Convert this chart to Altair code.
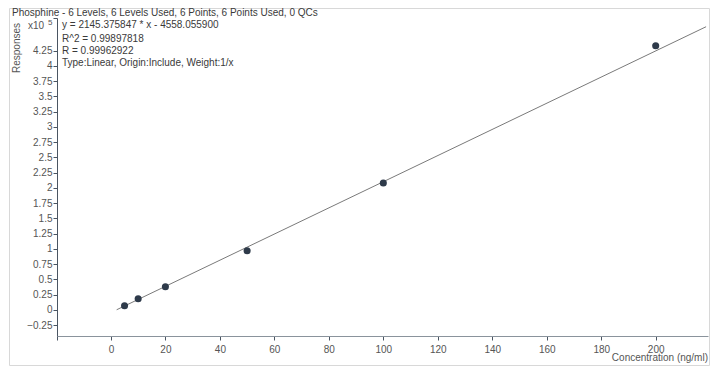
import altair as alt
import pandas as pd

# Calibration points
conc = [5, 10, 20, 50, 100, 200]
resp = [6600, 18000, 37700, 96700, 208000, 433000]

# Fitted line end points
line_x = [2.1, 218.5]
line_y = [0, 464200]

x_ticks = [-19.8, 0, 20, 40, 60, 80, 100, 120, 140, 160, 180, 200]
y_ticks = [-25000, 0, 25000, 50000, 75000, 100000, 125000, 150000, 175000, 200000,
           225000, 250000, 275000, 300000, 325000, 350000, 375000, 400000, 425000, 478500]

title_text = "Phosphine - 6 Levels, 6 Levels Used, 6 Points, 6 Points Used, 0 QCs"
eq_lines = ["y = 2145.375847 * x  - 4558.055900",
            "R^2 = 0.99897818",
            "R = 0.99962922",
            "Type:Linear, Origin:Include, Weight:1/x"]
eq_y = [7, 20.5, 33, 45]

FONT = "Liberation Sans"
XDOM = [-19.8, 219.2]
YDOM = [-43000, 478500]

pts = pd.DataFrame({"x": conc, "y": resp})
ln = pd.DataFrame({"x": line_x, "y": line_y})

xs = alt.Scale(domain=XDOM, nice=False, zero=False)
ys = alt.Scale(domain=YDOM, nice=False, zero=False)

xaxis = alt.Axis(values=x_ticks, tickCount=40, title=None, grid=False, labelOverlap=False,
                 labelExpr="datum.value < -1 ? '' : format(datum.value, 'd')",
                 domainColor="#8a939c", tickColor="#4a5562", tickSize=4,
                 labelColor="#555555", labelFontSize=10, labelFont=FONT, labelPadding=4,
                 labelFlush=False)
yaxis = alt.Axis(values=y_ticks, tickCount=40, title=None, grid=False, labelOverlap=False,
                 labelExpr="datum.value > 450000 ? '' : format(datum.value / 100000, '')",
                 domainColor="#4a5562", tickColor="#4a5562", tickSize=4,
                 labelColor="#555555", labelFontSize=10, labelFont=FONT, labelPadding=1,
                 labelFlush=False)

line = alt.Chart(ln).mark_line(color="#7a7a7a", strokeWidth=1).encode(
    x=alt.X("x:Q", scale=xs, axis=xaxis),
    y=alt.Y("y:Q", scale=ys, axis=yaxis),
)
points = alt.Chart(pts).mark_circle(color="#2e3a4a", opacity=1, size=50).encode(
    x=alt.X("x:Q", scale=xs),
    y=alt.Y("y:Q", scale=ys),
)

one = pd.DataFrame({"a": [0]})

frame = alt.Chart(one).mark_rect(
    fill=None, stroke="#d8d8d8", strokeWidth=1, clip=False
).encode(x=alt.value(-47.5), x2=alt.value(652.5), y=alt.value(-9.5), y2=alt.value(347.5))


def label(text, x, y, size=10, color="#3a3a3a", align="left", angle=None):
    kw = dict(align=align, baseline="middle", font=FONT, fontSize=size, color=color,
              text=text)
    if angle is not None:
        kw["angle"] = angle
    return alt.Chart(one).mark_text(**kw).encode(x=alt.value(x), y=alt.value(y))


layers = [frame, line, points, label(title_text, -45, -5)]
for t, yy in zip(eq_lines, eq_y):
    layers.append(label(t, 5, yy))
layers.append(label("Responses", -40, 30, color="#555555", align="center", angle=270))
layers.append(label("x10", -29, 8, color="#555555"))
layers.append(label("5", -9, 5, size=8, color="#555555"))
layers.append(label("Concentration (ng/ml)", 651, 340, color="#555555", align="right"))

chart = alt.layer(*layers).properties(
    width=651, height=318,
    autosize=alt.AutoSizeParams(type="none"),
    padding={"left": 49, "top": 10, "right": 4, "bottom": 30},
    background="white",
).configure_view(stroke=None)

chart.save("out.html", embed_options={"renderer": "svg", "actions": False})
